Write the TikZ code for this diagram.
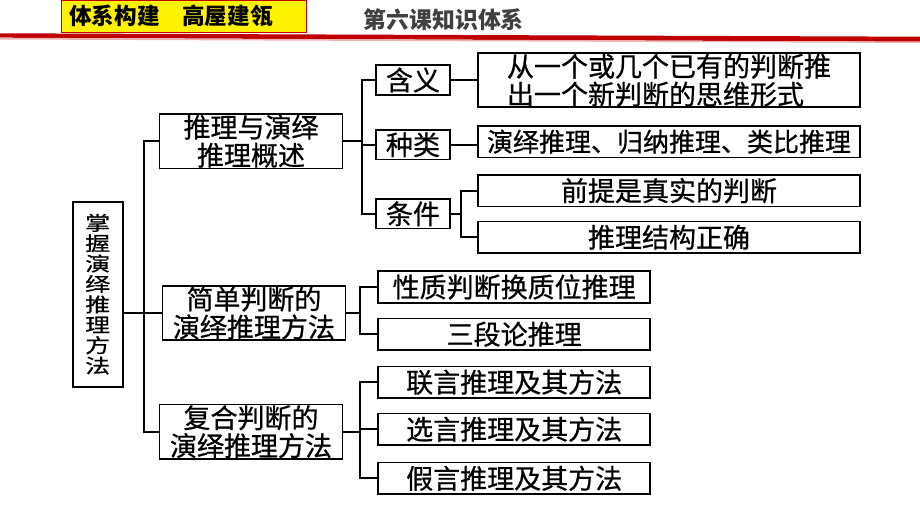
\documentclass[tikz,border=0pt]{standalone}
\usepackage{fontspec}
\setmainfont{Noto Sans CJK SC}
\newfontfamily\bodyfont{Noto Sans CJK SC}[FakeBold=0.7]
\newfontfamily\rootfont{Noto Sans CJK SC}[FakeStretch=1.28,FakeBold=0.7]
\definecolor{bandred}{HTML}{C00000}
\definecolor{titlegray}{HTML}{404040}

\begin{document}
\begin{tikzpicture}[x=1pt,y=-1pt,
    frame/.style={draw,line width=1.8pt,inner sep=0pt,align=center,
      font=\bodyfont\fontsize{27}{28}\selectfont},
    topic/.style={frame,minimum width=183pt,minimum height=54.5pt},
    tag/.style={frame,minimum width=74pt,minimum height=29.5pt},
    note/.style={frame,minimum width=382pt,minimum height=31.5pt},
    leaf/.style={frame,minimum width=271.7pt,minimum height=31.5pt},
    link/.style={line width=1.8pt}]
    \useasboundingbox (0,0) rectangle (920,518);
    % header
    \fill[bandred] (0,33.3) -- (920,36.7) -- (920,41.7) -- (0,37.7) -- cycle;
    \fill[bandred!30] (0,37.7) -- (920,41.7) -- (920,43) -- (0,39.5) -- cycle;
    \node[fill=yellow,draw=bandred,line width=1.2pt,minimum width=245pt,minimum height=32.3pt,
      inner xsep=7.6pt,inner ysep=0pt,text width=229.8pt,align=left,
      font=\bfseries\fontsize{22.6}{24}\selectfont] (hdr) at (184.2,16.15) {体系构建　高屋建瓴};
    \node[anchor=west,inner sep=0pt,text=titlegray,font=\bfseries\fontsize{22.9}{24}\selectfont] (ttl) at (363.3,20) {第六课知识体系};
    % tree
    \node[frame,minimum width=50pt,minimum height=185pt,
      font=\rootfont\fontsize{19.5}{20.4}\selectfont] (root) at (97.7,294.2) {掌\\握\\演\\绎\\推\\理\\方\\法};
    \node[topic] (ovA) at (251,141.2) {推理与演绎\\推理概述};
    \node[topic] (ovB) at (253.9,313) {简单判断的\\演绎推理方法};
    \node[topic] (ovC) at (251,431.7) {复合判断的\\演绎推理方法};
    \node[tag] (mean) at (413,80) {含义};
    \node[tag] (kind) at (413,144.7) {种类};
    \node[tag] (cond) at (413,213.8) {条件};
    \node[note,minimum height=54pt,align=left] (def) at (669,80.3) {从一个或几个已有的判断推\\出一个新判断的思维形式};
    \node[note,font=\bodyfont\fontsize{26}{26}\selectfont] (types) at (669,141.7) {演绎推理、归纳推理、类比推理};
    \node[note] (prem) at (669,190.7) {前提是真实的判断};
    \node[note] (form) at (669,237.3) {推理结构正确};
    \node[leaf] (conv) at (514.2,287) {性质判断换质位推理};
    \node[leaf] (syll) at (514.2,334.2) {三段论推理};
    \node[leaf] (conj) at (514.2,382.2) {联言推理及其方法};
    \node[leaf] (disj) at (514.2,429.2) {选言推理及其方法};
    \node[leaf] (hypo) at (514.2,478.3) {假言推理及其方法};
    % connectors
    \coordinate (t0) at (144,0);
    \coordinate (t1) at (361.7,0);
    \coordinate (t2) at (460.7,0);
    \coordinate (t3) at (359.7,0);
    \draw[link] (ovB.west) -- (ovB.west -| root.east);
    \draw[link] (ovA.west) -- (ovA.west -| t0) |- (ovC.west);
    \draw[link] (ovA.east) -- (ovA.east -| t1);
    \draw[link] (mean.west) -- (mean.west -| t1) |- (cond.west);
    \draw[link] (kind.west) -- (kind.west -| t1);
    \draw[link] (mean.east) -- (mean.east -| def.west);
    \draw[link] (kind.east) -- (kind.east -| types.west);
    \draw[link] (cond.east) -- (cond.east -| t2);
    \draw[link] (prem.west) -- (prem.west -| t2) |- (form.west);
    \draw[link] (ovB.east) -- (ovB.east -| t3);
    \draw[link] (conv.west) -- (conv.west -| t3) |- (syll.west);
    \draw[link] (ovC.east) -- (ovC.east -| t3);
    \draw[link] (conj.west) -- (conj.west -| t3) |- (hypo.west);
    \draw[link] (disj.west) -- (disj.west -| t3);
\end{tikzpicture}
\end{document}
